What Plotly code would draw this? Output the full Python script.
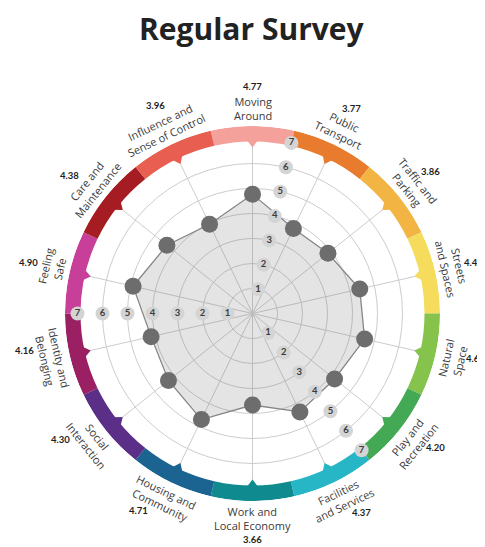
import math
import plotly.graph_objects as go

# ---- data ----
categories = ["Moving<br>Around", "Public<br>Transport", "Traffic and<br>Parking",
              "Streets<br>and Spaces", "Natural<br>Space", "Play and<br>Recreation",
              "Facilities<br>and Services", "Work and<br>Local Economy",
              "Housing and<br>Community", "Social<br>Interaction",
              "Identity and<br>Belonging", "Feeling<br>Safe",
              "Care and<br>Maintenance", "Influence and<br>Sense of Control"]
scores = [4.77, 3.77, 3.86, 4.40, 4.60, 4.20, 4.37, 3.66, 4.71, 4.30, 4.16, 4.90, 4.38, 3.96]
band_colors = ["#f4a19b", "#e97b2f", "#f2b443", "#f5dc5c", "#86c34d", "#44a955",
               "#27b6c5", "#0f8a8f", "#1b6491", "#5b2f88", "#9a1f63", "#c83f99",
               "#a51d23", "#e85e50"]
scale_ticks = [1, 2, 3, 4, 5, 6, 7]
title_text = "Regular Survey"

# ---- geometry / style (page body has an 8px margin, so shift by -8) ----
W, H = 485, 547
OFF = 8
CX, CY = 252.5 - OFF, 313.5 - OFF
RMAX = 7.5
PX_PER_UNIT = 25.0
RPX = RMAX * PX_PER_UNIT
n = len(categories)
step = 360.0 / n
theta = [i * step for i in range(n)]
value_offsets = [0, 0, 0, 0, -1.5, -2.5, -3, 0, 4.3, 5.3, 3.7, 0, -1.6, 0.7]
value_radii = [227, 228, 228, 227, 227, 227, 227, 226, 228, 230, 231, 230, 229, 229]

fig = go.Figure()

# coloured outer band
fig.add_trace(go.Barpolar(
    r=[RMAX - 6.88] * n, base=[6.88] * n, theta=theta, width=[step] * n,
    marker=dict(color=band_colors, line=dict(width=0)), hoverinfo="skip",
))
# inward notches
fig.add_trace(go.Scatterpolar(
    r=[6.84] * n, theta=theta, mode="markers",
    marker=dict(symbol="triangle-down", size=10, color=band_colors, angle=theta,
                line=dict(width=0)),
    hoverinfo="skip",
))
# data polygon
fig.add_trace(go.Scatterpolar(
    r=scores + [scores[0]], theta=theta + [theta[0]], mode="lines",
    fill="toself", fillcolor="rgba(120,120,120,0.20)",
    line=dict(color="#868686", width=1.3), hoverinfo="skip",
))
# dots
fig.add_trace(go.Scatterpolar(
    r=scores, theta=theta, mode="markers",
    marker=dict(size=17, color="#6d6d6d"), hoverinfo="skip",
))
# scale labels along three in-between directions
for ang in [step / 2, 5.5 * step, 270.0]:
    fig.add_trace(go.Scatterpolar(
        r=scale_ticks, theta=[ang] * len(scale_ticks), mode="markers+text",
        text=[f"<b>{v}</b>" for v in scale_ticks], textposition="middle center",
        textfont=dict(family="Lato", size=9.5, color="#3c3c3c"),
        marker=dict(size=14, color="#d4d4d4"), hoverinfo="skip",
    ))

annotations = []
for i in range(n):
    t = theta[i]
    r_lab = 205
    px = CX + r_lab * math.sin(math.radians(t))
    py = CY - r_lab * math.cos(math.radians(t))
    if 90 < t < 270:
        ta = t - 180
    elif t <= 90:
        ta = t
    else:
        ta = t - 360
    annotations.append(dict(
        x=px / W, y=1 - py / H, xref="paper", yref="paper", text=categories[i],
        textangle=ta, showarrow=False, xanchor="center", yanchor="middle",
        font=dict(family="Open Sans", size=11, color="#3a3a3a"),
    ))
    r_val = value_radii[i]
    tv = t + value_offsets[i]
    vx = CX + r_val * math.sin(math.radians(tv))
    vy = CY - r_val * math.cos(math.radians(tv))
    annotations.append(dict(
        x=vx / W, y=1 - vy / H, xref="paper", yref="paper", text=f"<b>{scores[i]:.2f}</b>",
        showarrow=False, xanchor="center", yanchor="middle",
        font=dict(family="Lato", size=9.5, color="#1e1e1e"),
    ))

annotations.append(dict(
    x=(251.5 - OFF) / W, y=1 - (28 - OFF) / H, xref="paper", yref="paper",
    text=f"<b>{title_text}</b>", showarrow=False, xanchor="center", yanchor="middle",
    font=dict(family="Open Sans", size=30, color="#222222"), borderpad=0,
))

fig.update_layout(
    width=W, height=H, margin=dict(l=0, r=0, t=0, b=0),
    paper_bgcolor="white", plot_bgcolor="white", showlegend=False,
    annotations=annotations,
    polar=dict(
        domain=dict(x=[(CX - RPX) / W, (CX + RPX) / W],
                    y=[1 - (CY + RPX) / H, 1 - (CY - RPX) / H]),
        bgcolor="white",
        radialaxis=dict(range=[0, RMAX], tickvals=scale_ticks, showticklabels=False,
                        ticks="", showline=False, gridcolor="#cccccc", gridwidth=1),
        angularaxis=dict(direction="clockwise", rotation=90, thetaunit="degrees",
                         tickvals=theta, showticklabels=False, ticks="",
                         showline=False, gridcolor="#cccccc", gridwidth=1),
        barmode="overlay",
    ),
)

fig.write_html("out.html")
